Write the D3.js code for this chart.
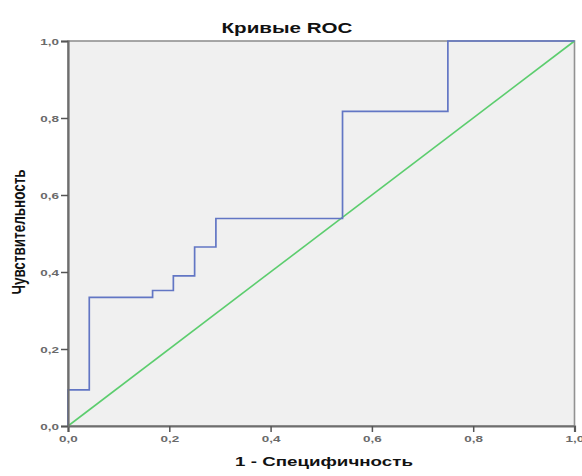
<!DOCTYPE html>
<html>
<head>
<meta charset="utf-8">
<script src="https://cdn.jsdelivr.net/npm/d3@7"></script>
<style>
  html, body { margin: 0; padding: 0; background: #fff; }
  svg { display: block; font-family: "Liberation Sans", Arial, sans-serif; }
</style>
</head>
<body>
<svg id="chart" width="582" height="476"></svg>
<script>
// ROC curve steps: false positive rate (1 - specificity) and sensitivity
const fpr = [0, 0, 0.042, 0.042, 0.167, 0.167, 0.208, 0.208, 0.25, 0.25, 0.292, 0.292, 0.542, 0.542, 0.75, 0.75, 1.0];
const tpr = [0, 0.094, 0.094, 0.334, 0.334, 0.352, 0.352, 0.39, 0.39, 0.465, 0.465, 0.539, 0.539, 0.817, 0.817, 1.0, 1.0];
// Reference (chance) line
const refX = [0, 1];
const refY = [0, 1];
const ticks = [0, 0.2, 0.4, 0.6, 0.8, 1.0];

const svg = d3.select("#chart");
const plotLeft = 68, plotRight = 574.5, plotTop = 41, plotBottom = 426;
// text in this chart is drawn horizontally widened
const stretch = 1.42;

const x = d3.scaleLinear().domain([0, 1]).range([plotLeft, plotRight]);
const y = d3.scaleLinear().domain([0, 1]).range([plotBottom, plotTop]);
const fmt = d => d3.format(".1f")(d).replace(".", ",");

// plot background and frame
svg.append("rect")
  .attr("x", plotLeft).attr("y", plotTop)
  .attr("width", plotRight - plotLeft).attr("height", plotBottom - plotTop)
  .attr("fill", "#f0f0f0")
  .attr("stroke", "#929292").attr("stroke-width", 1.6);

// chance diagonal
svg.append("path")
  .datum(d3.zip(refX, refY))
  .attr("d", d3.line().x(d => x(d[0])).y(d => y(d[1])))
  .attr("fill", "none").attr("stroke", "#5ccd6e").attr("stroke-width", 1.6);

// ROC curve
svg.append("path")
  .datum(d3.zip(fpr, tpr))
  .attr("d", d3.line().x(d => x(d[0])).y(d => y(d[1])))
  .attr("fill", "none").attr("stroke", "#6276c4").attr("stroke-width", 1.7);

// axes
const xAxis = svg.append("g")
  .attr("transform", `translate(0,${plotBottom})`)
  .call(d3.axisBottom(x).tickValues(ticks).tickFormat(fmt).tickSize(6).tickPadding(3));
const yAxis = svg.append("g")
  .attr("transform", `translate(${plotLeft},0)`)
  .call(d3.axisLeft(y).tickValues(ticks).tickFormat(fmt).tickSize(7).tickPadding(3));

[xAxis, yAxis].forEach(g => {
  g.select(".domain").attr("stroke", "#6e6e6e").attr("stroke-width", 2.2);
  g.selectAll(".tick line").attr("stroke", "#555").attr("stroke-width", 1.5);
  g.selectAll(".tick text")
    .attr("fill", "#6a6a6a")
    .attr("transform", `scale(${stretch},1)`)
    .style("font-size", "9.5px")
    .style("font-weight", "bold")
    .style("font-family", "'Liberation Sans', Arial, sans-serif");
});
yAxis.selectAll(".tick text").attr("x", -9 / stretch);

// title and axis titles
svg.append("text")
  .attr("transform", `translate(287,33) scale(${stretch},1)`)
  .attr("text-anchor", "middle")
  .style("font-size", "14.5px").style("font-weight", "bold").attr("fill", "#111")
  .text("Кривые ROC");

svg.append("text")
  .attr("transform", `translate(324,466) scale(${stretch},1)`)
  .attr("text-anchor", "middle")
  .style("font-size", "13.2px").style("font-weight", "bold").attr("fill", "#111")
  .text("1 - Специфичность");

svg.append("text")
  .attr("transform", `translate(25,232) scale(${stretch},1) rotate(-90)`)
  .attr("text-anchor", "middle")
  .style("font-size", "13.5px").style("font-weight", "bold").attr("fill", "#111")
  .text("Чувствительность");
</script>
</body>
</html>
